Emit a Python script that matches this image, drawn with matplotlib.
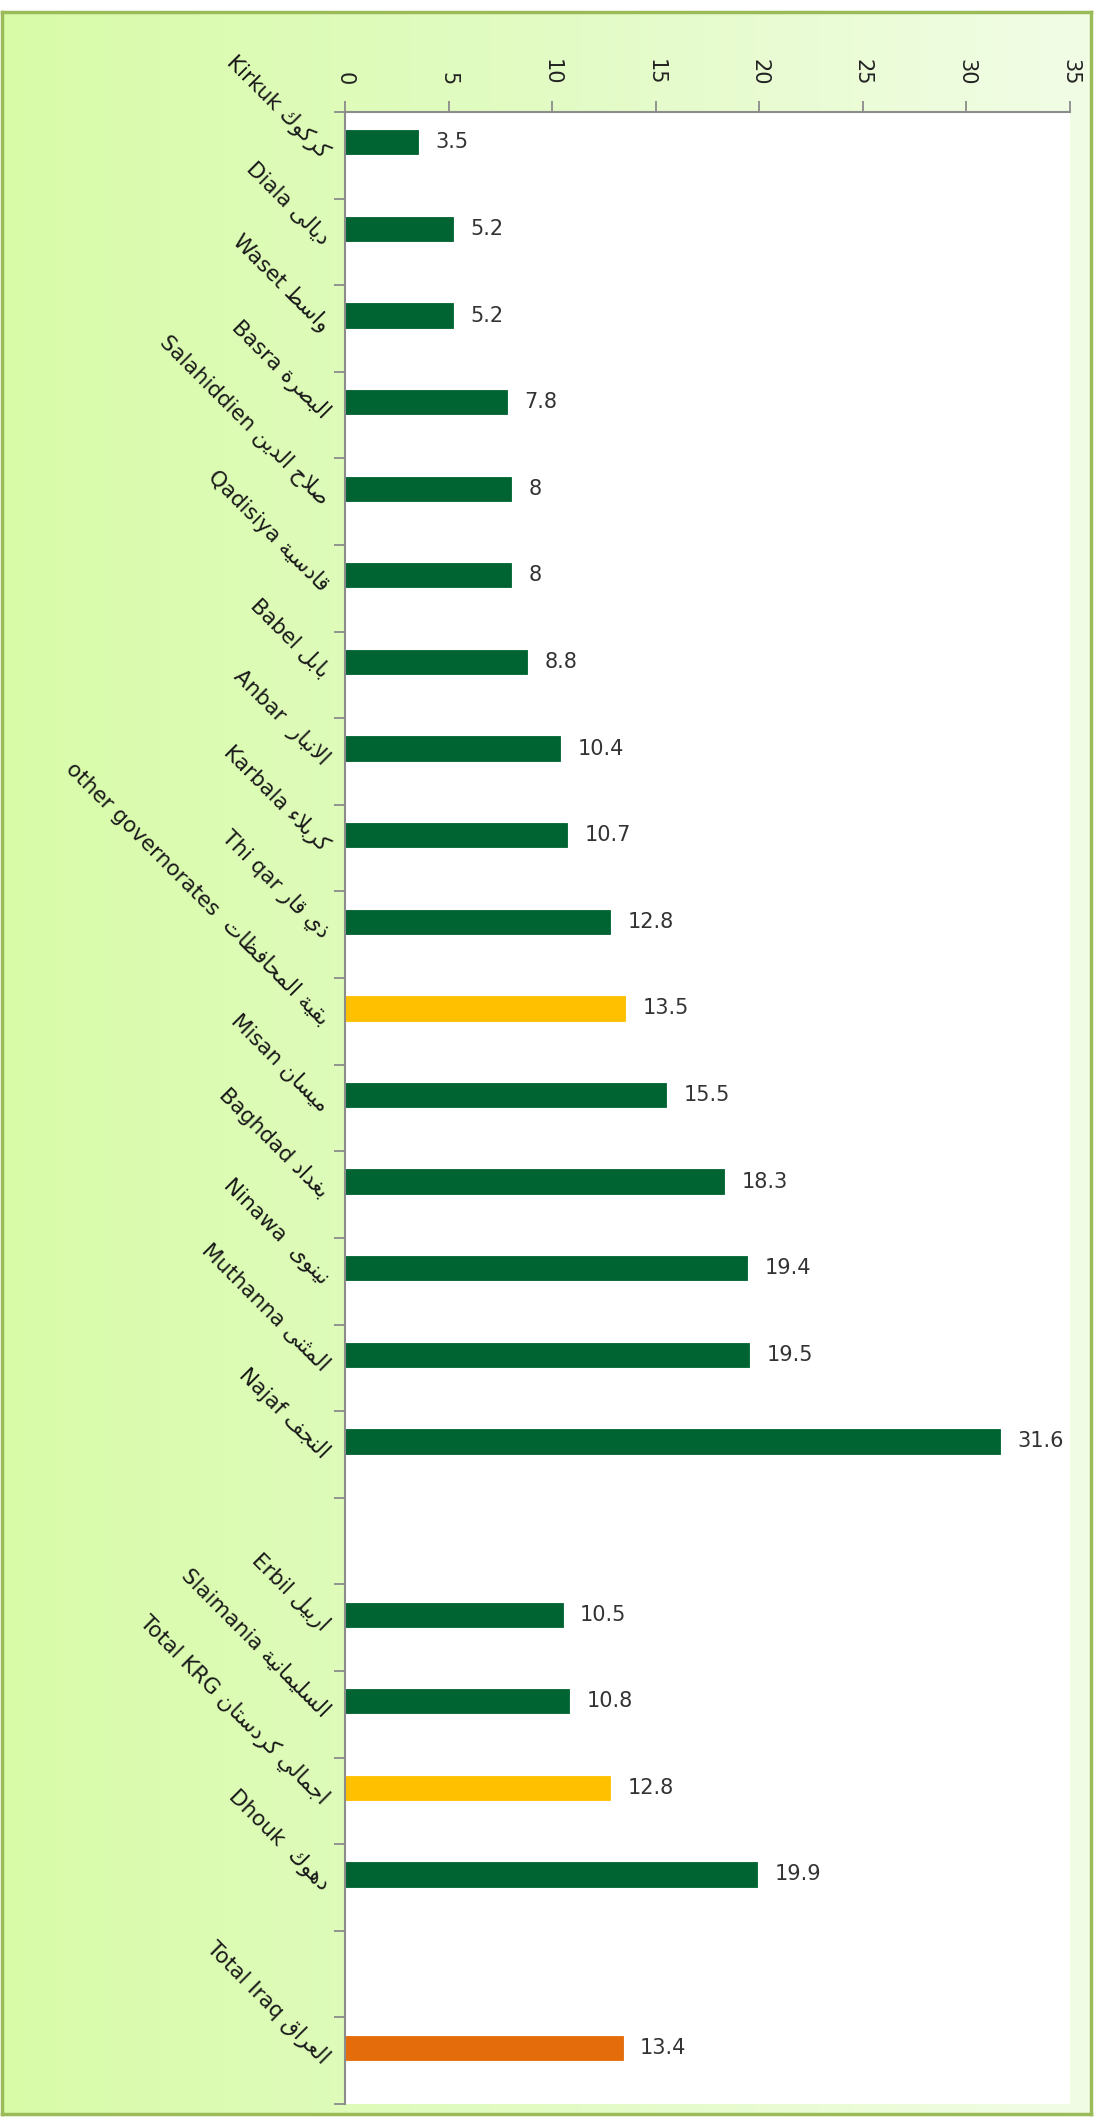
import numpy as np
import matplotlib.pyplot as plt
from matplotlib.colors import LinearSegmentedColormap

# Iraq governorates
gov_en = ["Kirkuk", "Diala", "Waset", "Basra", "Salahiddien", "Qadisiya", "Babel",
          "Anbar ", "Karbala", "Thi qar", "other governorates ", "Misan", "Baghdad",
          "Ninawa ", "Muthanna", "Najaf"]
gov_ar = ["كركوك", "ديالى", "واسط", "البصرة", "صلاح الدين", "قادسية", "بابل",
          "الانبار", "كربلاء", "ذي قار", "بقية المحافظات", "ميسان", "بغداد",
          "نينوى", "المثنى", "النجف"]
gov_val = [3.5, 5.2, 5.2, 7.8, 8, 8, 8.8, 10.4, 10.7, 12.8, 13.5, 15.5, 18.3,
           19.4, 19.5, 31.6]

# Kurdistan region
krg_en = ["Erbil", "Slaimania", "Total KRG", "Dhouk "]
krg_ar = ["اربيل", "السليمانية", "اجمالي كردستان", "دهوك"]
krg_val = [10.5, 10.8, 12.8, 19.9]

# whole country
tot_en = ["Total Iraq"]
tot_ar = ["العراق"]
tot_val = [13.4]

subtotals = ["other governorates ", "Total KRG"]
xticks = [0, 5, 10, 15, 20, 25, 30, 35]

GREEN = "#006432"
YELLOW = "#FFC000"
ORANGE = "#E46C0A"

# arabic presentation forms: isolated, final, initial, medial
FORMS = {
    'ا': (0xFE8D, 0xFE8E), 'ب': (0xFE8F, 0xFE90, 0xFE91, 0xFE92), 'ة': (0xFE93, 0xFE94),
    'ت': (0xFE95, 0xFE96, 0xFE97, 0xFE98), 'ث': (0xFE99, 0xFE9A, 0xFE9B, 0xFE9C),
    'ج': (0xFE9D, 0xFE9E, 0xFE9F, 0xFEA0), 'ح': (0xFEA1, 0xFEA2, 0xFEA3, 0xFEA4),
    'د': (0xFEA9, 0xFEAA), 'ذ': (0xFEAB, 0xFEAC), 'ر': (0xFEAD, 0xFEAE),
    'س': (0xFEB1, 0xFEB2, 0xFEB3, 0xFEB4), 'ص': (0xFEB9, 0xFEBA, 0xFEBB, 0xFEBC),
    'ط': (0xFEC1, 0xFEC2, 0xFEC3, 0xFEC4), 'ظ': (0xFEC5, 0xFEC6, 0xFEC7, 0xFEC8),
    'ع': (0xFEC9, 0xFECA, 0xFECB, 0xFECC), 'غ': (0xFECD, 0xFECE, 0xFECF, 0xFED0),
    'ف': (0xFED1, 0xFED2, 0xFED3, 0xFED4), 'ق': (0xFED5, 0xFED6, 0xFED7, 0xFED8),
    'ك': (0xFED9, 0xFEDA, 0xFEDB, 0xFEDC), 'ل': (0xFEDD, 0xFEDE, 0xFEDF, 0xFEE0),
    'م': (0xFEE1, 0xFEE2, 0xFEE3, 0xFEE4), 'ن': (0xFEE5, 0xFEE6, 0xFEE7, 0xFEE8),
    'ه': (0xFEE9, 0xFEEA, 0xFEEB, 0xFEEC), 'و': (0xFEED, 0xFEEE), 'ى': (0xFEEF, 0xFEF0),
    'ي': (0xFEF1, 0xFEF2, 0xFEF3, 0xFEF4), 'ء': (0xFE80,),
}


def shape(word):
    # join letters and put them in visual (right to left) order
    out = []
    i = 0
    while i < len(word):
        c = word[i]
        f = FORMS.get(c)
        if f is None:
            out.append(c)
            i += 1
            continue
        prev = word[i - 1] if i > 0 else ''
        joins_prev = len(FORMS.get(prev, ())) == 4
        nxt = word[i + 1] if i + 1 < len(word) else ''
        if c == 'ل' and nxt == 'ا':
            out.append(chr(0xFEFC if joins_prev else 0xFEFB))
            i += 2
            continue
        joins_next = len(f) == 4 and len(FORMS.get(nxt, ())) >= 2
        if joins_prev and len(f) >= 2 and joins_next:
            out.append(chr(f[3]))
        elif joins_prev and len(f) >= 2:
            out.append(chr(f[1]))
        elif joins_next:
            out.append(chr(f[2]))
        else:
            out.append(chr(f[0]))
        i += 1
    return ''.join(reversed(out))


# build slots, with an empty slot between the groups
names, arabic, values, pos = [], [], [], []
slot = 0
for en, ar, val in [(gov_en, gov_ar, gov_val), (krg_en, krg_ar, krg_val), (tot_en, tot_ar, tot_val)]:
    for e, a, v in zip(en, ar, val):
        names.append(e)
        arabic.append(a)
        values.append(v)
        pos.append(slot)
        slot += 1
    slot += 1
nslots = slot - 1

colors = []
for n in names:
    if n in subtotals:
        colors.append(YELLOW)
    elif n in tot_en:
        colors.append(ORANGE)
    else:
        colors.append(GREEN)

plt.rcParams['font.family'] = ['DejaVu Sans']

fig = plt.figure(figsize=(10.97, 21.22), dpi=100)
W, H = 1097, 2122

# background panel with a soft green gradient
bg = fig.add_axes([2 / W, 8 / H, 1089 / W, 2102 / H], zorder=0)
grad = np.linspace(0, 1, 256).reshape(1, -1)
cmap = LinearSegmentedColormap.from_list("bg", ["#d8fba8", "#e2fbc4", "#f2fde6"])
bg.imshow(grad, aspect='auto', cmap=cmap, extent=[0, 1, 0, 1])
bg.set_xticks([])
bg.set_yticks([])
for s in bg.spines.values():
    s.set_color("#9bbb59")
    s.set_linewidth(2.5)

ax = fig.add_axes([345 / W, 18 / H, 725 / W, 1992 / H], zorder=1)
ax.set_facecolor("white")

ypos = np.array(pos) - 0.15
ax.barh(ypos, values, height=0.28, color=colors, edgecolor=colors, linewidth=0.6)

for y, v in zip(ypos, values):
    ax.text(v + 0.85, y, f"{v:g}", va='center', ha='left', fontsize=15, color="#333333")

ax.set_xlim(0, 35)
ax.set_ylim(nslots - 0.5, -0.5)

ax.xaxis.tick_top()
ax.set_xticks(xticks)
ax.set_xticklabels([str(t) for t in xticks], rotation=-90, fontsize=15, color="#222222")
ax.tick_params(axis='x', length=8, width=1.3, color="#8c8c8c", pad=11)

# tick marks on slot boundaries, labels on slot centres
ax.set_yticks(np.arange(-0.5, nslots, 1))
ax.set_yticklabels([])
ax.tick_params(axis='y', which='major', length=8, width=1.3, color="#8c8c8c")
ax.set_yticks(pos, minor=True)
labels = [e + " " + shape(a) for e, a in zip(names, arabic)]
ax.set_yticklabels(labels, minor=True, fontsize=15.5, color="#1a1a1a")
ax.tick_params(axis='y', which='minor', length=0, pad=14)
for lab in ax.get_yticklabels(minor=True):
    lab.set_rotation(-45)
    lab.set_rotation_mode('anchor')
    lab.set_ha('right')
    lab.set_va('center')

for side in ['right', 'bottom']:
    ax.spines[side].set_visible(False)
for side in ['left', 'top']:
    ax.spines[side].set_color("#8c8c8c")
    ax.spines[side].set_linewidth(1.5)

fig.savefig("out.png", dpi=100, facecolor="white")
